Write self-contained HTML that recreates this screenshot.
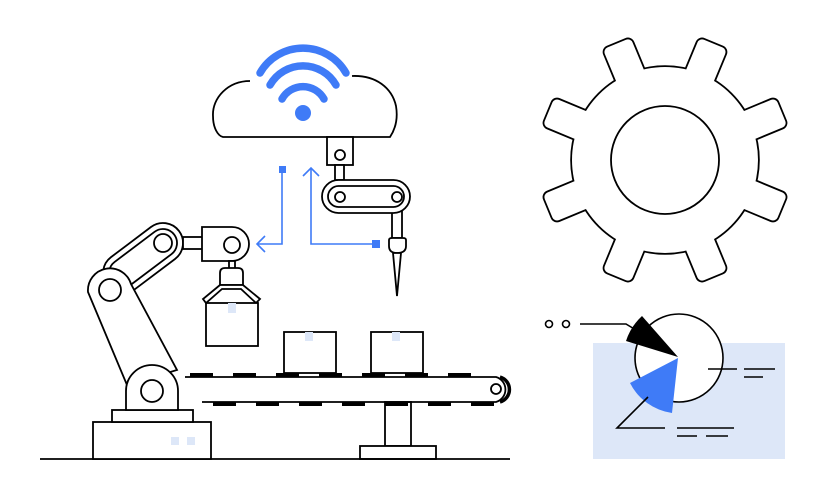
<!DOCTYPE html>
<html><head><meta charset="utf-8"><style>
html,body{margin:0;padding:0;background:#fff;}
svg{display:block;}
</style></head><body>
<svg width="825" height="500" viewBox="0 0 825 500" xmlns="http://www.w3.org/2000/svg">
<defs>
<g id="gearbody">
<circle cx="0" cy="0" r="93"/>
<g id="tooth"><rect x="-15" y="-126" width="30" height="45" rx="5"/></g>
</g>
</defs>
<rect width="825" height="500" fill="#fff"/>

<!-- Gear -->
<g transform="translate(665,160)">
 <g stroke="#000" stroke-width="3.6" fill="#000">
  <circle r="93"/>
  <rect x="-15" y="-126" width="30" height="45" rx="5" transform="rotate(22.5)"/>
  <rect x="-15" y="-126" width="30" height="45" rx="5" transform="rotate(67.5)"/>
  <rect x="-15" y="-126" width="30" height="45" rx="5" transform="rotate(112.5)"/>
  <rect x="-15" y="-126" width="30" height="45" rx="5" transform="rotate(157.5)"/>
  <rect x="-15" y="-126" width="30" height="45" rx="5" transform="rotate(202.5)"/>
  <rect x="-15" y="-126" width="30" height="45" rx="5" transform="rotate(247.5)"/>
  <rect x="-15" y="-126" width="30" height="45" rx="5" transform="rotate(292.5)"/>
  <rect x="-15" y="-126" width="30" height="45" rx="5" transform="rotate(337.5)"/>
 </g>
 <g fill="#fff">
  <circle r="93"/>
  <rect x="-15" y="-126" width="30" height="45" rx="5" transform="rotate(22.5)"/>
  <rect x="-15" y="-126" width="30" height="45" rx="5" transform="rotate(67.5)"/>
  <rect x="-15" y="-126" width="30" height="45" rx="5" transform="rotate(112.5)"/>
  <rect x="-15" y="-126" width="30" height="45" rx="5" transform="rotate(157.5)"/>
  <rect x="-15" y="-126" width="30" height="45" rx="5" transform="rotate(202.5)"/>
  <rect x="-15" y="-126" width="30" height="45" rx="5" transform="rotate(247.5)"/>
  <rect x="-15" y="-126" width="30" height="45" rx="5" transform="rotate(292.5)"/>
  <rect x="-15" y="-126" width="30" height="45" rx="5" transform="rotate(337.5)"/>
 </g>
 <circle r="54" fill="#fff" stroke="#000" stroke-width="1.8"/>
</g>

<!-- Pie chart -->
<rect x="593" y="343" width="192" height="116" fill="#dde7f8"/>
<circle cx="679" cy="358" r="44" fill="#fff" stroke="#000" stroke-width="1.6"/>
<path d="M678 357 L626 341 A58 58 0 0 1 642 316 Z" fill="#000"/>
<path d="M678 358 L630 383 A56 56 0 0 0 672 413 Z" fill="#3f7bf7"/>
<g stroke="#000" stroke-width="1.6" fill="none">
<circle cx="549" cy="324" r="3.5"/><circle cx="566" cy="324" r="3.5"/>
<path d="M580 324 H626 L636 330"/>
<path d="M708 369 H737 M744 369 H775 M744 377 H763"/>
<path d="M648 397 L617 428 H665 M677 428 H734 M677 436 H697 M706 436 H728"/>
</g>

<!-- Cloud -->
<path d="M250 81 C228 81 212 98 213 116 C213 128 218 136 223 137 L390 137 C396 128 398 118 396 106 C392 88 376 75 352 76" fill="#fff" stroke="#000" stroke-width="1.8"/>
<g stroke="#3f7bf7" stroke-width="7.5" fill="none" stroke-linecap="round">
<path d="M260 73 A49.6 49.6 0 0 1 346 73"/>
<path d="M270 85 A38 38 0 0 1 336 85"/>
<path d="M282 99 A24 24 0 0 1 324 99"/>
</g>
<circle cx="303" cy="113" r="8" fill="#3f7bf7"/>

<!-- Hanging arm -->
<g stroke="#000" stroke-width="1.8" fill="#fff">
<rect x="327" y="137" width="26" height="28"/>
<circle cx="340" cy="155" r="5"/>
<rect x="335" y="165" width="9" height="15"/>
<rect x="392" y="210" width="10" height="28"/>
<rect x="322" y="180" width="88" height="33" rx="16.5"/>
<rect x="328" y="186" width="76" height="21" rx="10.5"/>
<circle cx="340" cy="197" r="5"/>
<circle cx="397" cy="197" r="5"/>
<path d="M389 240 Q389 238 392 238 H403 Q406 238 406 240 V246 Q406 253 397 253 Q389 253 389 246 Z"/>
<path d="M393 253 L397 296 L401 253 Z" fill="#fff"/>
</g>

<!-- Blue connectors -->
<g stroke="#3f7bf7" stroke-width="1.6" fill="none">
<path d="M282 169 V244 H257"/>
<path d="M265 236 L257 244 L265 252"/>
<path d="M311 168 V244 H374"/>
<path d="M303 176 L311 168 L319 176"/>
</g>
<rect x="279" y="166" width="7" height="7" fill="#3f7bf7"/>
<rect x="372" y="240" width="8" height="8" fill="#3f7bf7"/>

<!-- Conveyor -->
<g stroke="#000" stroke-width="1.8" fill="#fff">
<rect x="385" y="402" width="26" height="44"/>
<rect x="360" y="446" width="76" height="13"/>
<path d="M185 377 H496 A13 13 0 0 1 496 402 H202" fill="none"/>
<circle cx="496" cy="389" r="5"/>
</g>
<path d="M500 377 A13 13 0 0 1 500 402" stroke="#000" stroke-width="3.5" fill="none"/>
<g stroke="#000" stroke-width="4">
<path d="M190 375 h23 M233 375 h23 M276 375 h23 M319 375 h23 M362 375 h23 M405 375 h23 M448 375 h23"/>
<path d="M213 404 h23 M256 404 h23 M299 404 h23 M342 404 h23 M385 404 h23 M428 404 h23 M471 404 h23"/>
</g>
<g stroke="#000" stroke-width="1.8" fill="#fff">
<rect x="284" y="332" width="52" height="41"/>
<rect x="371" y="332" width="52" height="41"/>
</g>
<rect x="305" y="332" width="8" height="9" fill="#dde7f8"/>
<rect x="392" y="332" width="8" height="9" fill="#dde7f8"/>
<line x1="40" y1="459" x2="510" y2="459" stroke="#000" stroke-width="1.8"/>

<!-- Robot arm -->
<g stroke="#000" stroke-width="1.8" fill="#fff">
<rect x="93" y="422" width="118" height="37"/>
<rect x="112" y="410" width="81" height="12"/>
<!-- upper arm -->
<g transform="translate(163,243) rotate(143)">
<rect x="-20" y="-20" width="90" height="40" rx="20"/>
<rect x="-14" y="-14" width="78" height="28" rx="14"/>
</g>
<circle cx="163" cy="243" r="9"/>
<!-- lower arm -->
<path d="M88 292 A22 22 0 0 1 131 284 L177 370 L127 385 Z"/>
<circle cx="110" cy="290" r="11"/>
<!-- shoulder -->
<path d="M126 410 V391 A26 26 0 0 1 178 391 V410 Z"/>
<circle cx="152" cy="391" r="11"/>
<!-- connectors -->
<rect x="183" y="237" width="20" height="12"/>
<path d="M202 227 H232 A17 17 0 0 1 232 261 H202 Z"/>
<circle cx="232" cy="245" r="8"/>
<rect x="229" y="261" width="6" height="8"/>
<path d="M220 285 V273 Q220 268 225 268 H238 Q243 268 243 273 V285 Z"/>
<path d="M220 285 L203 299 L206 303 L222 289 H241 L256 303 L260 299 L243 285 Z"/>
<rect x="206" y="303" width="52" height="43"/>
</g>
<rect x="228" y="303" width="8" height="10" fill="#dde7f8"/>
<rect x="171" y="437" width="8" height="8" fill="#dde7f8"/>
<rect x="187" y="437" width="8" height="8" fill="#dde7f8"/>
</svg>
</body></html>
